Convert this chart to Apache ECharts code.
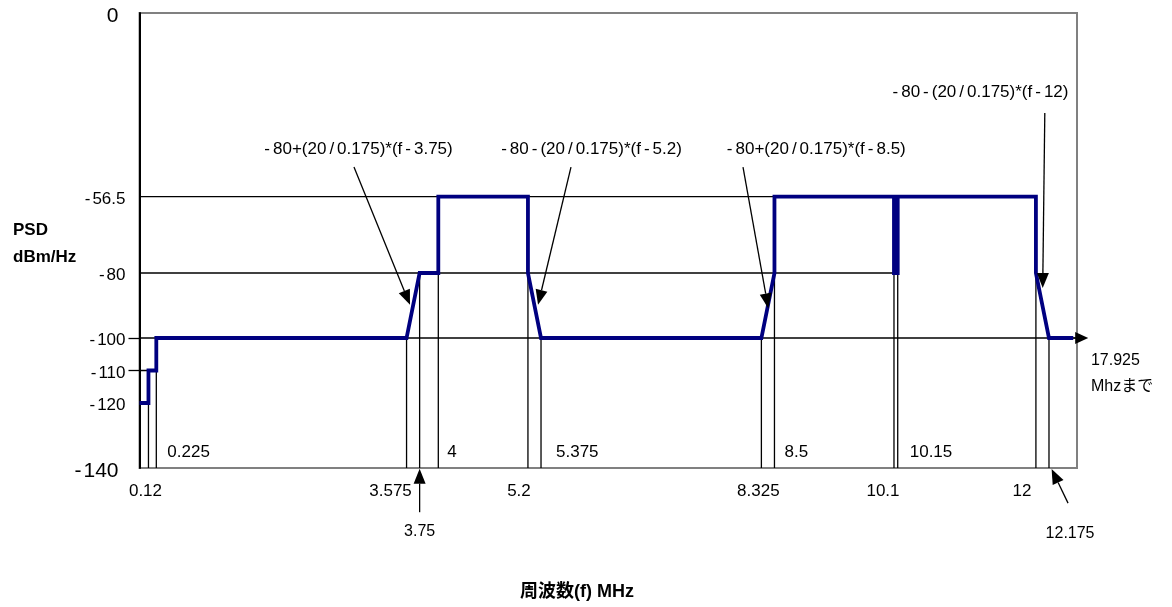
<!DOCTYPE html>
<html><head><meta charset="utf-8">
<script src="https://cdn.jsdelivr.net/npm/echarts@6/dist/echarts.min.js"></script>
<style>html,body{margin:0;padding:0;background:#fff}#c{width:1172px;height:607px}</style>
</head><body><div id="c"></div>
<script>
// ---------- data ----------
const psdFreq  = [0, 0.12, 0.12, 0.225, 0.225, 3.575, 3.75, 4, 4, 5.2, 5.2, 5.375, 8.325, 8.5, 8.5, 10.1, 10.1, 10.15, 10.15, 12, 12, 12.175, 12.5];
const psdLevel = [-120, -120, -110, -110, -100, -100, -80, -80, -56.5, -56.5, -80, -100, -100, -80, -56.5, -56.5, -80, -80, -56.5, -56.5, -80, -100, -100];
const yTickValues = [0, -56.5, -80, -100, -110, -120, -140];
const markerFreqs = [0.12, 0.225, 3.575, 3.75, 4, 5.2, 5.375, 8.325, 8.5, 10.1, 10.15, 12, 12.175];
const markerTops  = [-120, -110, -100, -80, -80, -80, -100, -100, -80, -80, -80, -56.5, -100];
const levelLines    = [-56.5, -80, -100, -110];
const levelLineEnds = [10.15, 10.1, 12.55, 0.225];
const freqLabelsBelow  = ['0.12', '3.575', '5.2', '8.325', '10.1', '12'];
const freqLabelsInside = ['0.225', '4', '5.375', '8.5', '10.15'];
const formulaTexts = ['-80+(20/0.175)*(f-3.75)', '-80-(20/0.175)*(f-5.2)', '-80+(20/0.175)*(f-8.5)', '-80-(20/0.175)*(f-12)'];
const arrowFreqLabels = ['3.75', '12.175'];
const continuationText = ['17.925', 'Mhzまで'];
const yAxisTitle = ['PSD', 'dBm/Hz'];
const xAxisTitle = '周波数(f) MHz';

// ---------- layout (annotation placement, in axis units / pixel offsets) ----------
const belowDx  = [-3, -16, -9, -3, -11, -14];
const insideDx = [11, 9, 15, 10, 12];
const formulaAt = [[2.912, -41.8], [6.031, -41.8], [9.04, -41.8], [11.238, -24.4]];
const formulaArrows = [
  [[2.871, -47.4], [3.621, -89.8]],
  [[5.776, -47.4], [5.335, -89.8]],
  [[8.079, -47.4], [8.418, -90.9]],
  [[12.119, -30.8], [12.091, -84.6]]
];
const freqArrows = [
  [[3.75, -153.6], [3.75, -140.2]],
  [[12.43, -150.8], [12.21, -140.3]]
];
const freqArrowLabelAt = [[3.75, -159.6], [12.457, -160.2]];
const endArrow = [[12.5, -100], [12.70, -100]];
const continuationAt = [[12.737, -106.8], [12.737, -115.1]];

const FONT = '"Liberation Sans", Arial, "Noto Sans CJK JP", sans-serif';

const series = [];
markerFreqs.forEach((f, i) => {
  series.push({type: 'line', data: [[f, -140], [f, markerTops[i]]], symbol: 'none', silent: true,
    lineStyle: {color: '#000', width: 1.3}, z: 1, animation: false});
});
levelLines.forEach((v, i) => {
  series.push({type: 'line', data: [[0, v], [levelLineEnds[i], v]], symbol: 'none', silent: true,
    lineStyle: {color: '#000', width: 1.3}, z: 1, animation: false});
});
series.push({
  type: 'line', data: psdFreq.map((f, i) => [f, psdLevel[i]]), symbol: 'none', silent: true,
  lineStyle: {color: '#000080', width: 3.8, join: 'miter'}, z: 5, animation: false
});

// wide-spaced hyphens / slashes as in the reference typography
const spaced = (s, tag) => s.replace(/[-\/]/g, c => '{' + tag + '|' + c + '}');

const option = {
  animation: false,
  backgroundColor: '#fff',
  grid: {left: 139.5, right: 95, top: 13, bottom: 139, show: true, borderColor: '#808080', borderWidth: 2, containLabel: false},
  xAxis: {type: 'value', min: 0, max: 12.55, axisLine: {show: false}, axisTick: {show: false},
    axisLabel: {show: false}, splitLine: {show: false}},
  yAxis: {type: 'value', min: -140, max: 0,
    axisLine: {show: true, lineStyle: {color: '#000', width: 2}},
    axisTick: {show: true, customValues: [-100, -110], length: 11, lineStyle: {color: '#000', width: 1.3}},
    axisLabel: {customValues: yTickValues, margin: 14, color: '#000', fontSize: 17, fontFamily: FONT,
      padding: [5, 0, 0, 0],
      formatter: v => {
        const s = String(v);
        if (v === 0 || v === -140) {
          return s.charAt(0) === '-' ? '{bh|-}{b|' + s.slice(1) + '}' : '{b|' + s + '}';
        }
        return s.charAt(0) === '-' ? '{h|-}' + s.slice(1) : s;
      },
      rich: {
        b: {fontSize: 21, fontFamily: FONT, color: '#000', padding: [2, 7, 0, 0]},
        bh: {fontSize: 21, fontFamily: FONT, color: '#000', padding: [2, 2, 0, 2]},
        h: {fontSize: 17, fontFamily: FONT, color: '#000', padding: [0, 2, 0, 2]}
      }},
    splitLine: {show: false}},
  series: series
};

const chart = echarts.init(document.getElementById('c'));
chart.setOption(option);

const P = (f, v) => chart.convertToPixel({gridIndex: 0}, [f, v]);
const g = [];
function text(x, y, t, font, align, valign, rich) {
  const style = {text: t, font: font, fill: '#000', align: align, textAlign: align,
      verticalAlign: valign, textVerticalAlign: valign};
  if (rich) style.rich = rich;
  g.push({type: 'text', x: x, y: y, z: 20, silent: true, style: style});
}
function arrow(a, b, L, W) {
  const s = P(a[0], a[1]), t = P(b[0], b[1]);
  const dx = t[0] - s[0], dy = t[1] - s[1], len = Math.hypot(dx, dy);
  const ux = dx / len, uy = dy / len, nx = -uy, ny = ux;
  const bx = t[0] - ux * L, by = t[1] - uy * L;
  g.push({type: 'line', z: 20, silent: true, shape: {x1: s[0], y1: s[1], x2: bx, y2: by},
    style: {stroke: '#000', lineWidth: 1.3}});
  g.push({type: 'polygon', z: 20, silent: true,
    shape: {points: [[t[0], t[1]], [bx + nx * W / 2, by + ny * W / 2], [bx - nx * W / 2, by - ny * W / 2]]},
    style: {fill: '#000'}});
}
const f17 = '17px ' + FONT;
freqLabelsBelow.forEach((t, i) => {
  const p = P(parseFloat(t), -140);
  text(p[0] + belowDx[i], p[1] + 23, t, f17, 'center', 'middle');
});
freqLabelsInside.forEach((t, i) => {
  const p = P(parseFloat(t), -140);
  text(p[0] + insideDx[i], p[1] - 16, t, f17, 'left', 'middle');
});
const formulaRich = {s: {font: f17, fill: '#000', padding: [0, 3, 0, 3]}};
formulaTexts.forEach((t, i) => {
  const p = P(formulaAt[i][0], formulaAt[i][1]);
  text(p[0], p[1], spaced(t, 's'), f17, 'center', 'middle', formulaRich);
  arrow(formulaArrows[i][0], formulaArrows[i][1], 15, 12);
});
freqArrows.forEach((a, i) => {
  arrow(a[0], a[1], 15, 12);
  const p = P(freqArrowLabelAt[i][0], freqArrowLabelAt[i][1]);
  text(p[0], p[1], arrowFreqLabels[i], '16px ' + FONT, 'center', 'middle');
});
arrow(endArrow[0], endArrow[1], 13, 12);
continuationText.forEach((t, i) => {
  const p = P(continuationAt[i][0], continuationAt[i][1]);
  text(p[0], p[1], t, '16px ' + FONT, 'left', 'middle');
});
text(13, 230, yAxisTitle[0], 'bold 17px ' + FONT, 'left', 'middle');
text(13, 257, yAxisTitle[1], 'bold 17px ' + FONT, 'left', 'middle');
text(577, 592, xAxisTitle, 'bold 18px ' + FONT, 'center', 'middle');

chart.setOption({graphic: {elements: g}});
</script>
</body></html>
